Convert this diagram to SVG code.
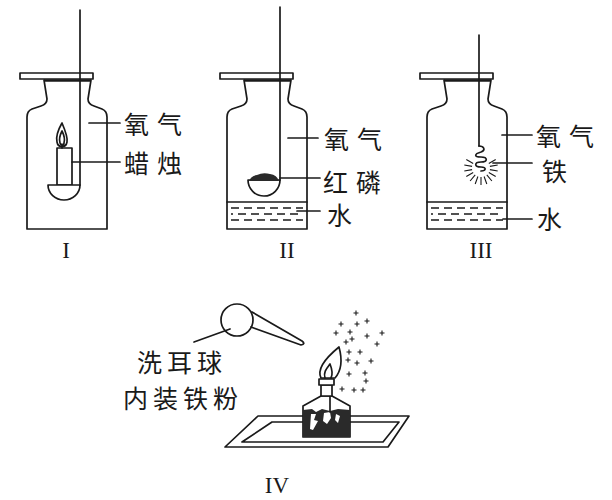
<svg xmlns="http://www.w3.org/2000/svg" width="612" height="500" viewBox="0 0 612 500">
<style>
.ln{fill:none;stroke:#1a1a1a;stroke-width:1.7;stroke-linecap:round;stroke-linejoin:round}
.wf{fill:#fff;stroke:#1a1a1a;stroke-width:1.7;stroke-linejoin:round}
.dk{fill:#2a2a2a;stroke:none}
.cn{font-family:"Noto Sans CJK SC","Noto Sans CJK JP",sans-serif;font-size:25px;fill:#1a1a1a;letter-spacing:8px}
.cn2{font-family:"Noto Sans CJK SC","Noto Sans CJK JP",sans-serif;font-size:25px;fill:#1a1a1a;letter-spacing:5px}
.rn{font-family:"Liberation Serif",serif;font-size:23px;fill:#1a1a1a;text-anchor:middle}
.wd{fill:none;stroke:#1a1a1a;stroke-width:1.3;stroke-dasharray:8 5}
.sp{fill:none;stroke:#1a1a1a;stroke-width:1.1}
</style>
<defs>
<g id="jar">
<path class="ln" d="M44,80 L47,99 Q47,104 41,106 L32,109 Q27,111 27,117 L27,229 L107,229 L107,117 Q107,111 102,109 L94,106 Q88,104 88,99 L91,80"/>
<rect class="wf" x="20" y="73" width="73" height="6"/>
<line x1="44" y1="80.5" x2="91" y2="80.5" stroke="#1a1a1a" stroke-width="2.5"/>
</g>
<g id="water">
<line class="ln" x1="27" y1="202" x2="107" y2="202"/>
<line class="wd" x1="31" y1="208" x2="103" y2="208"/>
<line class="wd" x1="31" y1="214" x2="103" y2="214" stroke-dashoffset="6"/>
<line class="wd" x1="31" y1="220" x2="103" y2="220"/>
</g>
<path id="plus" d="M-2.5,0 H2.5 M0,-2.5 V2.5"/>
</defs>

<g id="jar1">
<use href="#jar"/>
<line class="ln" x1="80" y1="10" x2="80" y2="185"/>
<rect class="wf" x="57" y="148" width="15" height="37"/>
<path class="wf" d="M48,185 A16,15 0 0 0 80,185 Z"/>
<path class="wf" d="M62,123 C58,130 56,138 57,142 C58,148 66,148 67,142 C68,137 65,130 62,123 Z"/>
<path class="ln" d="M62,131 C60,135 59,140 60,143 C61,146 64,146 64,143 C65,140 64,135 62,131 Z" stroke-width="1.1"/>
<line class="ln" x1="62" y1="144" x2="62" y2="148" stroke-width="1.1"/>
<line class="ln" x1="89" y1="123" x2="120" y2="123"/>
<line class="ln" x1="72" y1="162" x2="120" y2="162"/>
<text class="cn" x="124" y="134">氧气</text>
<text class="cn" x="124" y="173">蜡烛</text>
<text class="rn" x="66" y="258">I</text>
</g>

<g id="jar2">
<use href="#jar" transform="translate(200,0)"/>
<use href="#water" transform="translate(200,0)"/>
<line class="ln" x1="280" y1="7" x2="280" y2="180"/>
<path class="wf" d="M248,180 A16,16 0 0 0 280,180 Z"/>
<path class="dk" d="M249,181 Q251,176 257,175 Q263,172 270,174 Q277,175 279,181 Z"/>
<line class="ln" x1="288" y1="138" x2="318" y2="138"/>
<line class="ln" x1="280" y1="178" x2="320" y2="178"/>
<line class="ln" x1="297" y1="211" x2="320" y2="211"/>
<text class="cn" x="324" y="149">氧气</text>
<text class="cn" x="323" y="192">红磷</text>
<text class="cn" x="327" y="225">水</text>
<text class="rn" x="287" y="258">II</text>
</g>

<g id="jar3">
<use href="#jar" transform="translate(400,0)"/>
<use href="#water" transform="translate(400,0)"/>
<line class="ln" x1="479" y1="35" x2="479" y2="146"/>
<path class="ln" stroke-width="1.3" d="M479,146 c5,0 7,4 2,6 c-7,2 -7,5 0,5 c7,0 7,5 0,5 c-7,0 -7,5 0,5 c6,0 5,4 0,4"/>
<path class="sp" d="M488.8,163.5 L495.7,159.5 M489.9,166.4 L497.7,165 M489.9,169.6 L497.7,171 M488.8,172.5 L495.7,176.5 M486.8,174.9 L491.9,181 M484.1,176.5 L486.8,184 M481,177 L481,185 M477.9,176.5 L475.2,184 M475.2,174.9 L470.1,181 M473.2,172.5 L466.3,176.5 M472.1,169.6 L464.3,171 M472.1,166.4 L464.3,165 M473.2,163.5 L466.3,159.5"/>
<line class="ln" x1="502" y1="135" x2="532" y2="135"/>
<line class="ln" x1="493" y1="163" x2="532" y2="163"/>
<line class="ln" x1="503" y1="219" x2="532" y2="219"/>
<text class="cn" x="536" y="146">氧气</text>
<text class="cn" x="542" y="181">铁</text>
<text class="cn" x="537" y="229">水</text>
<text class="rn" x="481" y="258">III</text>
</g>

<g id="bulb">
<circle class="wf" cx="237" cy="320" r="16"/>
<path class="ln" d="M252,312 L302,341 Q306,344 301,345 L251,327"/>
<line class="ln" x1="194" y1="342" x2="230" y2="329"/>
<text class="cn2" x="137" y="372">洗耳球</text>
<text class="cn2" x="123" y="408">内装铁粉</text>
</g>

<g id="tray">
<path class="ln" d="M258,416 L409,416 L388,447 L225,447 Z"/>
<path class="ln" d="M272,422 L399,422 L383,442 L242,442 Z"/>
</g>

<g id="lamp">
<path class="wf" d="M321,396 L303,406 L303,437 L350,437 L350,406 L332,396 Z"/>
<path class="dk" d="M303,410 L312,409 L316,412 L322,409 L330,411 L338,409 L350,410 L350,437 L303,437 Z"/>
<path fill="#fff" d="M311,414 L316,414 L314,420 L318,421 L313,430 L310,429 Z M324,413 L330,412 L331,418 L327,424 L323,421 Z M336,414 L340,416 L338,423 L335,420 Z"/>
<line class="ln" x1="330" y1="385" x2="330" y2="412" stroke-width="1.2"/>
<rect class="wf" x="321" y="385" width="11" height="11"/>
<rect class="wf" x="319" y="379" width="15" height="6"/>
<path class="wf" d="M321,378 C316,368 328,356 339,347 C342,358 342,370 335,378 Z"/>
<path class="ln" stroke-width="1.2" d="M325,378 C323,372 327,368 330,364 C332,369 333,374 331,378"/>
<g class="sp" stroke-width="1.2">
<use href="#plus" x="356" y="313"/>
<use href="#plus" x="341" y="324"/>
<use href="#plus" x="357" y="324"/>
<use href="#plus" x="367" y="321"/>
<use href="#plus" x="336" y="333"/>
<use href="#plus" x="350" y="332"/>
<use href="#plus" x="382" y="333"/>
<use href="#plus" x="346" y="342"/>
<use href="#plus" x="352" y="339"/>
<use href="#plus" x="367" y="336"/>
<use href="#plus" x="377" y="344"/>
<use href="#plus" x="349" y="352"/>
<use href="#plus" x="360" y="352"/>
<use href="#plus" x="348" y="360"/>
<use href="#plus" x="357" y="363"/>
<use href="#plus" x="371" y="361"/>
<use href="#plus" x="349" y="374"/>
<use href="#plus" x="365" y="373"/>
<use href="#plus" x="366" y="381"/>
<use href="#plus" x="342" y="389"/>
<use href="#plus" x="354" y="390"/>
<use href="#plus" x="363" y="390"/>
</g>
</g>
<text class="rn" x="277" y="493">IV</text>
</svg>
